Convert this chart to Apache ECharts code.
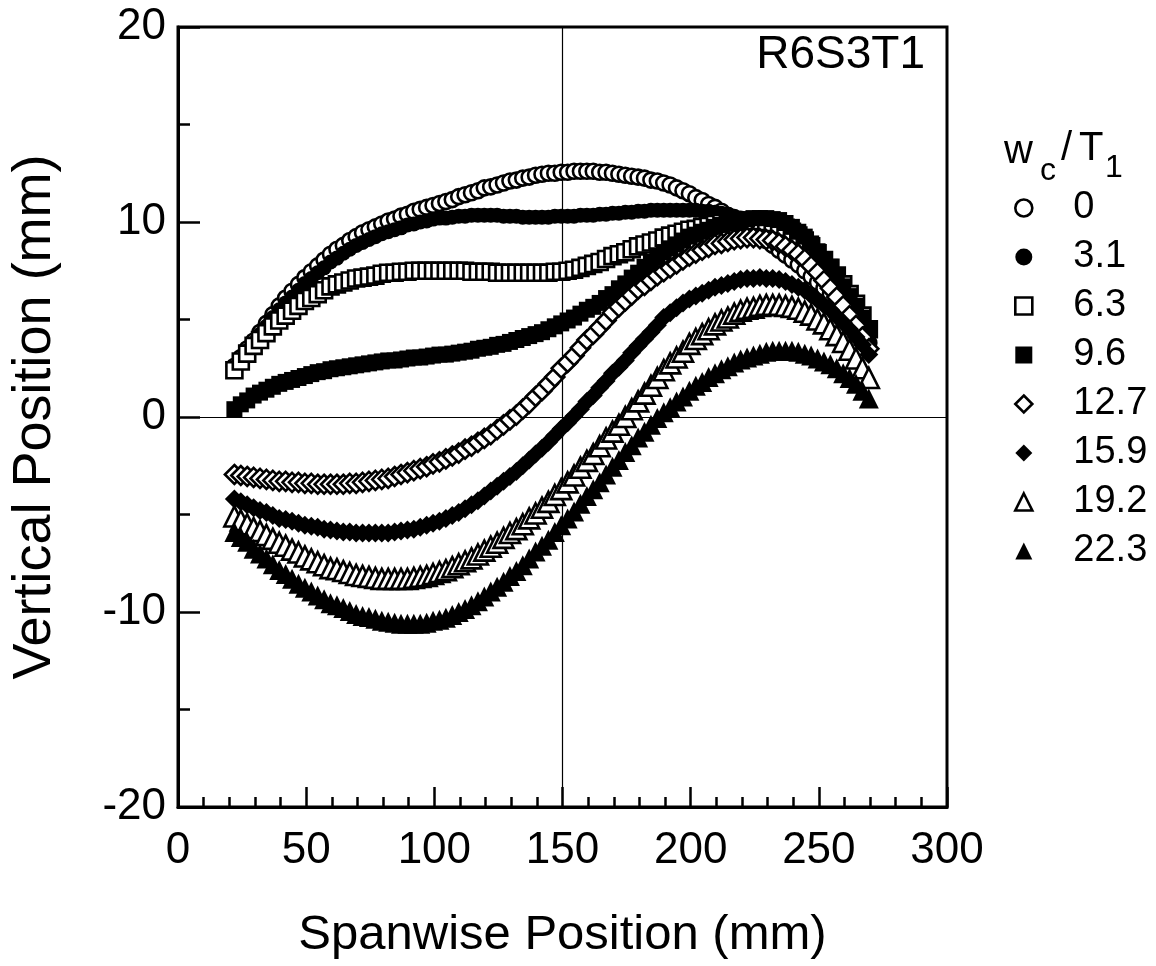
<!DOCTYPE html>
<html><head><meta charset="utf-8">
<script src="https://cdn.jsdelivr.net/npm/echarts@6/dist/echarts.min.js"></script>
<style>html,body{margin:0;padding:0;background:#fff}#c{width:1156px;height:966px}</style>
</head><body><div id="c"></div>
<script>
// Spanwise positions (mm)
const XS = [22,24.5,27,29.5, 32,34.5,37,39.5, 42,44.5,47,49.5, 52,54.5,57,59.5, 62,64.5,67,69.5,
  72,74.5,77,79.5, 82,84.5,87,89.5, 92,94.5,97,99.5, 102,104.5,107,109.5, 112,114.5,117,119.5,
  122,124.5,127,129.5, 132,134.5,137,139.5, 142,144.5,147,149.5, 152,154.5,157,159.5, 162,164.5,167,169.5,
  172,174.5,177,179.5, 182,184.5,187,189.5, 192,194.5,197,199.5, 202,204.5,207,209.5, 212,214.5,217,219.5,
  222,224.5,227,229.5, 232,234.5,237,239.5, 242,244.5,247,249.5, 252,254.5,257,259.5, 262,264.5,267,269.5];

// Vertical positions (mm) for each w_c/T_1
const Y_0 = [2.6,3.05,3.5,3.9, 4.35,4.8,5.25,5.7, 6.1,6.45,6.8,7.15, 7.45,7.75,8.05,8.35, 8.6,8.8,9.05,9.25,
  9.45,9.6,9.75,9.9, 10.05,10.15,10.3,10.4, 10.55,10.65,10.75,10.85, 10.95,11.05,11.15,11.3, 11.4,11.5,11.6,11.75,
  11.8,11.9,12.0,12.1, 12.15,12.25,12.3,12.4, 12.45,12.5,12.5,12.55, 12.55,12.6,12.6,12.6, 12.6,12.55,12.55,12.5,
  12.45,12.4,12.35,12.3, 12.25,12.15,12.1,12.0, 11.9,11.75,11.6,11.45, 11.25,11.1,10.9,10.75, 10.55,10.35,10.15,9.95,
  9.7,9.5,9.3,9.05, 8.8,8.55,8.3,8.05, 7.8,7.5,7.2,6.9, 6.6,6.3,5.95,5.55, 5.15,4.75,4.3,3.8];
const Y_3_1 = [2.5,2.95,3.4,3.8, 4.25,4.65,5.1,5.5, 5.85,6.15,6.5,6.85, 7.1,7.4,7.65,7.95, 8.15,8.4,8.6,8.8,
  8.95,9.1,9.25,9.4, 9.5,9.6,9.7,9.85, 9.9,10.0,10.05,10.15, 10.2,10.2,10.25,10.3, 10.3,10.35,10.35,10.35,
  10.35,10.35,10.3,10.3, 10.3,10.25,10.25,10.25, 10.25,10.25,10.3,10.3, 10.3,10.3,10.35,10.35, 10.35,10.4,10.4,10.45,
  10.45,10.5,10.5,10.55, 10.55,10.6,10.6,10.6, 10.6,10.6,10.6,10.6, 10.6,10.55,10.55,10.5, 10.45,10.4,10.3,10.2,
  10.1,10.0,9.85,9.7, 9.55,9.35,9.1,8.9, 8.65,8.35,8.0,7.65, 7.3,6.9,6.45,6.0, 5.5,5.0,4.45,3.85];
const Y_6_3 = [2.4,2.85,3.25,3.65, 3.95,4.3,4.65,4.95, 5.2,5.45,5.7,5.95, 6.1,6.3,6.5,6.7, 6.8,6.9,7.0,7.1,
  7.15,7.2,7.25,7.35, 7.4,7.4,7.45,7.45, 7.5,7.5,7.5,7.5, 7.5,7.5,7.5,7.5, 7.5,7.45,7.45,7.45,
  7.45,7.4,7.4,7.4, 7.4,7.4,7.4,7.4, 7.4,7.4,7.45,7.45, 7.5,7.55,7.65,7.75, 7.85,7.95,8.1,8.25,
  8.35,8.45,8.6,8.75, 8.85,8.95,9.05,9.2, 9.3,9.4,9.5,9.6, 9.65,9.75,9.8,9.9, 9.95,10.0,10.0,10.05,
  10.05,10.05,10.05,10.0, 9.95,9.85,9.7,9.5, 9.3,9.05,8.75,8.4, 8.05,7.65,7.25,6.8, 6.3,5.8,5.2,4.5];
const Y_9_6 = [0.4,0.65,0.85,1.1, 1.25,1.4,1.55,1.7, 1.8,1.9,2.0,2.1, 2.2,2.3,2.35,2.45, 2.5,2.55,2.6,2.65,
  2.7,2.75,2.8,2.85, 2.9,2.9,2.95,3.0, 3.05,3.05,3.1,3.15, 3.2,3.2,3.25,3.3, 3.35,3.4,3.5,3.55,
  3.6,3.7,3.75,3.85, 3.95,4.05,4.15,4.25, 4.35,4.5,4.65,4.8, 4.95,5.1,5.3,5.5, 5.65,5.85,6.1,6.3,
  6.6,6.85,7.15,7.4, 7.7,7.95,8.2,8.45, 8.65,8.85,9.05,9.25, 9.35,9.5,9.6,9.75, 9.85,9.95,10.0,10.1,
  10.15,10.2,10.2,10.2, 10.15,10.1,9.95,9.75, 9.5,9.25,8.9,8.5, 8.1,7.7,7.2,6.7, 6.2,5.7,5.1,4.5];
const Y_12_7 = [-2.95,-3.0,-3.05,-3.1, -3.15,-3.2,-3.25,-3.3, -3.3,-3.35,-3.35,-3.4, -3.4,-3.45,-3.45,-3.45, -3.45,-3.45,-3.4,-3.4,
  -3.35,-3.3,-3.25,-3.2, -3.15,-3.05,-2.95,-2.85, -2.75,-2.65,-2.55,-2.4, -2.3,-2.15,-2.0,-1.85, -1.65,-1.5,-1.3,-1.1,
  -0.9,-0.65,-0.4,-0.15, 0.1,0.4,0.7,1.05, 1.35,1.7,2.05,2.5, 2.8,3.15,3.55,3.95, 4.25,4.6,4.95,5.35,
  5.65,5.95,6.25,6.55, 6.75,7.0,7.25,7.45, 7.65,7.85,8.05,8.25, 8.4,8.55,8.7,8.85, 8.9,9.0,9.1,9.15,
  9.2,9.2,9.15,9.1, 9.05,8.9,8.75,8.55, 8.35,8.1,7.75,7.4, 7.0,6.6,6.15,5.7, 5.2,4.7,4.1,3.5];
const Y_15_9 = [-4.2,-4.35,-4.5,-4.65, -4.8,-4.9,-5.05,-5.2, -5.25,-5.35,-5.45,-5.55, -5.6,-5.65,-5.75,-5.8, -5.85,-5.9,-5.9,-5.95,
  -5.95,-5.95,-5.95,-5.95, -5.95,-5.9,-5.85,-5.8, -5.75,-5.65,-5.55,-5.45, -5.35,-5.2,-5.05,-4.9, -4.7,-4.5,-4.3,-4.05,
  -3.8,-3.55,-3.3,-3.05, -2.8,-2.5,-2.2,-1.9, -1.6,-1.3,-0.95,-0.6, -0.3,0.05,0.4,0.8, 1.1,1.5,1.85,2.25,
  2.55,2.9,3.3,3.65, 4.0,4.35,4.7,5.1, 5.35,5.6,5.85,6.05, 6.2,6.35,6.5,6.65, 6.75,6.85,6.95,7.05,
  7.1,7.1,7.15,7.1, 7.1,7.05,6.95,6.8, 6.65,6.5,6.25,6.0, 5.75,5.5,5.15,4.85, 4.5,4.1,3.7,3.2];
const Y_19_2 = [-5.1,-5.3,-5.5,-5.7, -5.85,-6.05,-6.25,-6.45, -6.6,-6.8,-6.95,-7.15, -7.3,-7.45,-7.6,-7.75, -7.8,-7.9,-8.0,-8.1,
  -8.15,-8.2,-8.25,-8.3, -8.3,-8.3,-8.3,-8.3, -8.25,-8.2,-8.15,-8.05, -7.95,-7.85,-7.7,-7.55, -7.4,-7.25,-7.05,-6.85,
  -6.65,-6.45,-6.2,-5.95, -5.75,-5.5,-5.2,-4.95, -4.65,-4.35,-4.0,-3.7, -3.35,-3.0,-2.6,-2.25, -1.9,-1.5,-1.1,-0.75,
  -0.4,0.0,0.4,0.8, 1.2,1.6,2.0,2.4, 2.75,3.05,3.35,3.75, 4.0,4.25,4.5,4.75, 4.95,5.1,5.3,5.45,
  5.55,5.6,5.7,5.75, 5.75,5.75,5.7,5.65, 5.55,5.4,5.25,5.0, 4.8,4.5,4.2,3.85, 3.45,3.0,2.5,2.0];
const Y_22_3 = [-5.9,-6.15,-6.4,-6.75, -7.0,-7.25,-7.55,-7.85, -8.05,-8.3,-8.55,-8.75, -8.95,-9.15,-9.35,-9.55, -9.65,-9.8,-9.95,-10.1,
  -10.2,-10.25,-10.35,-10.45, -10.5,-10.55,-10.6,-10.6, -10.6,-10.6,-10.55,-10.45, -10.4,-10.3,-10.15,-10.0, -9.85,-9.65,-9.45,-9.2,
  -8.95,-8.7,-8.45,-8.15, -7.9,-7.6,-7.25,-6.9, -6.6,-6.3,-5.9,-5.55, -5.2,-4.85,-4.45,-4.05, -3.7,-3.35,-2.95,-2.55,
  -2.2,-1.8,-1.45,-1.05, -0.75,-0.4,-0.05,0.25, 0.5,0.8,1.05,1.35, 1.6,1.8,2.05,2.25, 2.45,2.6,2.8,2.95,
  3.05,3.15,3.25,3.35, 3.4,3.4,3.4,3.4, 3.35,3.25,3.15,3.0, 2.85,2.7,2.5,2.25, 2.0,1.7,1.35,0.95];

const SERIES_NAMES = ['0', '3.1', '6.3', '9.6', '12.7', '15.9', '19.2', '22.3'];
const SERIES_Y = [Y_0, Y_3_1, Y_6_3, Y_9_6, Y_12_7, Y_15_9, Y_19_2, Y_22_3];
const X_TICKS = [0, 50, 100, 150, 200, 250, 300];
const Y_TICKS = [-20, -10, 0, 10, 20];

const FONT = '"Liberation Sans", Arial, Helvetica, sans-serif';
const SYMBOLS = ['circle','circle','rect','rect','diamond','diamond','triangle','triangle'];
const SIZES = [15, 15, 16, 16, 19, 19, 20, 20];
const FILLED = [false, true, false, true, false, true, false, true];

function styleFor(i) {
  return FILLED[i]
    ? { color: '#000', borderColor: '#000', borderWidth: 0, opacity: 1 }
    : { color: '#fff', borderColor: '#000', borderWidth: 2.6, opacity: 1 };
}

const series = SERIES_NAMES.map((name, i) => {
  const s = {
    name: name,
    type: 'scatter',
    symbol: SYMBOLS[i],
    symbolSize: SIZES[i],
    data: XS.map((x, k) => [x, SERIES_Y[i][k]]),
    itemStyle: styleFor(i),
    emphasis: { disabled: true },
    z: 3
  };
  if (i === 0) {
    s.markLine = {
      silent: true, symbol: 'none', animation: false,
      label: { show: false },
      lineStyle: { color: '#000', width: 1.2, type: 'solid', opacity: 1 },
      data: [{ xAxis: 150 }, { yAxis: 0 }],
      z: 1
    };
  }
  return s;
});

const chart = echarts.init(document.getElementById('c'), null, { renderer: 'canvas' });
chart.setOption({
  animation: false,
  backgroundColor: '#fff',
  grid: { left: 177, right: 209, top: 27, bottom: 159, show: true, borderColor: '#000', borderWidth: 3, backgroundColor: 'transparent' },
  xAxis: {
    type: 'value', min: X_TICKS[0], max: X_TICKS[X_TICKS.length - 1], interval: 50,
    name: 'Spanwise Position (mm)', nameLocation: 'middle', nameGap: 104,
    nameTextStyle: { fontFamily: FONT, fontSize: 49, color: '#000' },
    axisLine: { show: true, onZero: false, lineStyle: { color: '#000', width: 3 } },
    axisTick: { show: true, inside: true, length: 20, lineStyle: { color: '#000', width: 2.5 } },
    minorTick: { show: true, splitNumber: 5, length: 10, lineStyle: { color: '#000', width: 2.5 } },
    axisLabel: { fontFamily: FONT, fontSize: 44, color: '#000', margin: 22 },
    splitLine: { show: false }
  },
  yAxis: {
    type: 'value', min: Y_TICKS[0], max: Y_TICKS[Y_TICKS.length - 1], interval: 10,
    name: 'Vertical Position (mm)', nameLocation: 'middle', nameGap: 116,
    nameTextStyle: { fontFamily: FONT, fontSize: 54, color: '#000' },
    axisLine: { show: true, onZero: false, lineStyle: { color: '#000', width: 3 } },
    axisTick: { show: true, inside: true, length: 22, lineStyle: { color: '#000', width: 2.5 } },
    minorTick: { show: true, splitNumber: 2, length: 12, lineStyle: { color: '#000', width: 2.5 } },
    axisLabel: { fontFamily: FONT, fontSize: 44, color: '#000', margin: 12 },
    splitLine: { show: false }
  },
  legend: {
    show: true, orient: 'vertical', left: 1009, top: 184,
    itemWidth: 17, itemHeight: 17, itemGap: 11,
    selectedMode: false,
    textStyle: { fontFamily: FONT, fontSize: 38, color: '#000', padding: [0, 0, 0, 36] },
    data: SERIES_NAMES.map((n, i) => ({ name: n, icon: SYMBOLS[i], itemStyle: styleFor(i) }))
  },
  graphic: [
    { type: 'text', x: 925, y: 55, style: { text: 'R6S3T1', font: '46px ' + FONT, fill: '#000', align: 'right', verticalAlign: 'middle' } },
    { type: 'text', x: 1004, y: 152, style: { text: 'w', font: '40px ' + FONT, fill: '#000', align: 'left', verticalAlign: 'middle' } },
    { type: 'text', x: 1040, y: 171, style: { text: 'c', font: '32px ' + FONT, fill: '#000', align: 'left', verticalAlign: 'middle' } },
    { type: 'text', x: 1061, y: 149, style: { text: '/', font: '40px ' + FONT, fill: '#000', align: 'left', verticalAlign: 'middle' } },
    { type: 'text', x: 1079, y: 149, style: { text: 'T', font: '40px ' + FONT, fill: '#000', align: 'left', verticalAlign: 'middle' } },
    { type: 'text', x: 1105, y: 168, style: { text: '1', font: '32px ' + FONT, fill: '#000', align: 'left', verticalAlign: 'middle' } }
  ],
  series: series
});
</script>
</body></html>
